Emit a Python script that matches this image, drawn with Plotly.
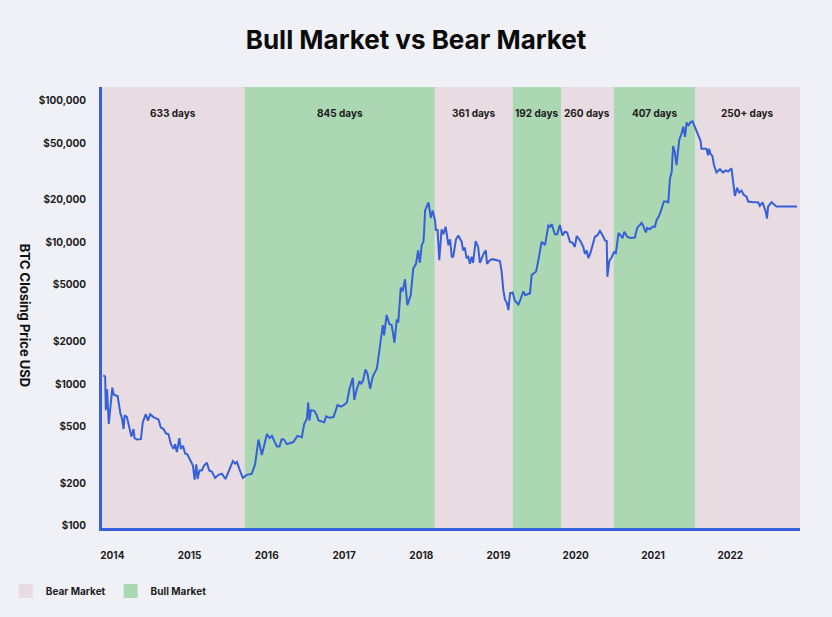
import pandas as pd
import plotly.graph_objects as go

# weekly-ish closing prices
dates = [
    "2013-11-19", "2013-11-28", "2013-12-01", "2013-12-07", "2013-12-15", "2013-12-23", "2014-01-01", "2014-01-07", "2014-01-26", "2014-02-08",
    "2014-02-16", "2014-02-23", "2014-02-28", "2014-03-11", "2014-03-23", "2014-04-01", "2014-04-11", "2014-04-16", "2014-04-27", "2014-05-16",
    "2014-05-25", "2014-06-08", "2014-06-18", "2014-06-29", "2014-07-14", "2014-08-07", "2014-08-18", "2014-08-31", "2014-09-12", "2014-09-23",
    "2014-10-05", "2014-10-17", "2014-10-25", "2014-11-02", "2014-11-14", "2014-11-21", "2014-12-01", "2014-12-11", "2014-12-22", "2015-01-05",
    "2015-01-17", "2015-01-25", "2015-02-02", "2015-02-08", "2015-02-17", "2015-02-28", "2015-03-11", "2015-03-24", "2015-04-04", "2015-04-17",
    "2015-05-02", "2015-05-18", "2015-06-03", "2015-06-20", "2015-07-04", "2015-07-25", "2015-08-05", "2015-08-13", "2015-08-28", "2015-09-10",
    "2015-09-29", "2015-10-22", "2015-11-07", "2015-11-23", "2015-12-09", "2015-12-20", "2016-01-02", "2016-01-14", "2016-01-26", "2016-02-06",
    "2016-02-18", "2016-03-01", "2016-03-12", "2016-03-23", "2016-04-05", "2016-05-06", "2016-05-25", "2016-06-15", "2016-06-26", "2016-07-09",
    "2016-07-15", "2016-07-21", "2016-07-28", "2016-08-13", "2016-08-25", "2016-09-02", "2016-09-29", "2016-10-08", "2016-10-24", "2016-11-12",
    "2016-12-01", "2016-12-17", "2017-01-01", "2017-01-14", "2017-01-26", "2017-02-11", "2017-02-18", "2017-03-02", "2017-03-15", "2017-03-21",
    "2017-03-31", "2017-04-12", "2017-04-21", "2017-05-04", "2017-05-17", "2017-06-05", "2017-06-17", "2017-07-03", "2017-07-09", "2017-07-21",
    "2017-08-03", "2017-08-14", "2017-08-27", "2017-09-07", "2017-09-14", "2017-09-26", "2017-10-05", "2017-10-16", "2017-10-27", "2017-11-12",
    "2017-11-24", "2017-12-07", "2017-12-17", "2017-12-25", "2018-01-03", "2018-01-11", "2018-01-14", "2018-01-19", "2018-02-04", "2018-02-15",
    "2018-02-24", "2018-03-07", "2018-03-11", "2018-03-19", "2018-03-27", "2018-04-07", "2018-04-15", "2018-04-26", "2018-05-09", "2018-05-17",
    "2018-05-25", "2018-06-01", "2018-06-14", "2018-06-25", "2018-07-11", "2018-07-18", "2018-07-26", "2018-08-03", "2018-08-11", "2018-08-19",
    "2018-08-27", "2018-09-03", "2018-09-15", "2018-09-27", "2018-10-05", "2018-10-13", "2018-10-24", "2018-11-02", "2018-11-08", "2018-11-21",
    "2018-12-04", "2019-01-08", "2019-01-16", "2019-01-24", "2019-02-01", "2019-02-09", "2019-02-17", "2019-02-25", "2019-03-09", "2019-03-20",
    "2019-04-05", "2019-04-13", "2019-04-29", "2019-05-07", "2019-05-30", "2019-06-07", "2019-06-28", "2019-07-08", "2019-07-24", "2019-08-09",
    "2019-08-25", "2019-09-02", "2019-09-10", "2019-09-17", "2019-09-25", "2019-10-06", "2019-10-18", "2019-10-31", "2019-11-11", "2019-11-22",
    "2019-12-05", "2019-12-17", "2019-12-28", "2020-01-06", "2020-01-22", "2020-02-06", "2020-02-14", "2020-02-22", "2020-03-01", "2020-03-12",
    "2020-03-24", "2020-04-01", "2020-04-12", "2020-04-25", "2020-05-08", "2020-05-19", "2020-05-27", "2020-05-30", "2020-06-08", "2020-06-19",
    "2020-06-30", "2020-07-09", "2020-07-22", "2020-08-01", "2020-08-10", "2020-08-18", "2020-09-01", "2020-09-17", "2020-10-07", "2020-10-18",
    "2020-11-08", "2020-11-16", "2020-11-28", "2020-12-04", "2020-12-17", "2020-12-30", "2021-01-10", "2021-01-18", "2021-01-30", "2021-02-10",
    "2021-02-21", "2021-03-06", "2021-03-14", "2021-03-22", "2021-03-30", "2021-04-06", "2021-04-14", "2021-04-22", "2021-05-05", "2021-05-16",
    "2021-05-24", "2021-06-01", "2021-06-09", "2021-06-16", "2021-06-27", "2021-07-07", "2021-07-18", "2021-08-02", "2021-08-14", "2021-08-18",
    "2021-09-11", "2021-09-18", "2021-09-23", "2021-09-30", "2021-10-09", "2021-10-16", "2021-10-28", "2021-11-13", "2021-11-28", "2021-12-11",
    "2021-12-22", "2022-01-07", "2022-01-15", "2022-01-23", "2022-02-03", "2022-02-12", "2022-02-23", "2022-03-06", "2022-03-19", "2022-03-27",
    "2022-04-19", "2022-05-13", "2022-05-21", "2022-06-03", "2022-06-14", "2022-06-18", "2022-06-24", "2022-06-29", "2022-07-15", "2022-08-08",
    "2022-09-24", "2022-11-13",
]

prices = [
    1150, 1130, 655, 919, 523, 693, 944, 845, 820, 619,
    569, 482, 602, 585, 495, 426, 482, 416, 406, 409,
    538, 613, 553, 613, 585, 563, 495, 482, 448, 444,
    377, 349, 377, 332, 416, 349, 367, 324, 319, 289,
    266, 212, 272, 214, 246, 246, 266, 279, 246, 241,
    218, 229, 233, 214, 241, 286, 275, 283, 244, 218,
    229, 233, 272, 406, 316, 377, 444, 416, 431, 396,
    363, 363, 409, 406, 377, 390, 431, 422, 523, 569,
    742, 553, 655, 648, 602, 553, 538, 592, 578, 585,
    713, 693, 713, 742, 919, 1106, 776, 919, 1051, 1000,
    1051, 1268, 1193, 928, 1134, 1287, 1702, 2604, 2208, 3071,
    2652, 2604, 1961, 2854, 2716, 4795, 4512, 5487, 3595, 4241,
    6513, 7047, 8762, 7170, 9548, 10070, 11629, 16788, 19138, 14855,
    16788, 14265, 12211, 12211, 7470, 12359, 11390, 12873, 9550, 10502,
    7907, 7907, 10502, 11166, 10070, 8762, 9179, 7732, 7907, 7047,
    7907, 7170, 10197, 9273, 7170, 7732, 8366, 8762, 7047, 7470,
    7600, 7381, 6219, 4597, 3918, 3756, 3322, 4374, 4430, 3869,
    3641, 3869, 4512, 4241, 4374, 5875, 6219, 7381, 10070, 9550,
    13142, 12873, 13417, 12359, 11390, 11390, 13255, 11166, 11872, 11730,
    10070, 9950, 9273, 11070, 10285, 9273, 8279, 8762, 7732, 8511,
    9830, 10934, 11166, 12018, 11166, 10285, 10197, 5706, 7381, 7810,
    8511, 8366, 11629, 11166, 10710, 11872, 10934, 10710, 10801, 12618,
    13682, 13030, 11726, 12618, 12359, 12873, 12873, 14370, 15354, 17140,
    19376, 19376, 18970, 28190, 31120, 47700, 43200, 35050, 52950, 58690,
    65270, 55340, 70060, 66150, 70060, 71290, 64670, 57140, 51780, 45580,
    45580, 41040, 45580, 41860, 40470, 35050, 31120, 32760, 31120, 32130,
    31500, 33220, 25550, 21220, 24230, 22380, 23150, 21640, 20970, 19376,
    19140, 19140, 18070, 19140, 17140, 16440, 14720, 17850, 19140, 17850,
    17850, 17850,
]

# market phases
band_start = ["2013-11-13", "2015-09-19", "2018-03-06", "2019-03-09", "2019-10-25", "2020-06-29", "2021-07-20"]
band_end = ["2015-09-19", "2018-03-06", "2019-03-09", "2019-10-25", "2020-06-29", "2021-07-20", "2022-11-27"]
band_kind = ["Bear Market", "Bull Market", "Bear Market", "Bull Market", "Bear Market", "Bull Market", "Bear Market"]
band_days = ["633 days", "845 days", "361 days", "192 days", "260 days", "407 days", "250+ days"]

year_ticks = ["2014-01-01", "2015-01-01", "2016-01-01", "2017-01-01", "2018-01-01",
              "2019-01-01", "2020-01-01", "2021-01-01", "2022-01-01"]
year_labels = ["2014", "2015", "2016", "2017", "2018", "2019", "2020", "2021", "2022"]

price_ticks = [100, 200, 500, 1000, 2000, 5000, 10000, 20000, 50000, 100000]
price_labels = ["$100", "$200", "$500", "$1000", "$2000", "$5000", "$10,000", "$20,000", "$50,000", "$100,000"]

colors = {"Bear Market": "#e8dbe2", "Bull Market": "#abd7b2"}
BLUE = "#3560d8"
BG = "#f0f1f6"
FONT = "Inter, Roboto, sans-serif"

fig = go.Figure()

fig.add_trace(go.Scatter(
    x=dates, y=prices, mode="lines",
    line=dict(color=BLUE, width=2),
    showlegend=False, hoverinfo="x+y",
))

for kind in ["Bear Market", "Bull Market"]:
    fig.add_trace(go.Scatter(
        x=[None], y=[None], mode="markers", name="<b>%s</b>" % kind,
        marker=dict(symbol="square", size=14, color=colors[kind]),
    ))

shapes = []
annotations = []
for s, e, k, d in zip(band_start, band_end, band_kind, band_days):
    shapes.append(dict(
        type="rect", xref="x", yref="paper", x0=s, x1=e, y0=0, y1=1,
        fillcolor=colors[k], line=dict(width=0), layer="below",
    ))
    # label sits in the middle of its band
    mid = pd.Timestamp(s) + (pd.Timestamp(e) - pd.Timestamp(s)) / 2
    annotations.append(dict(
        x=mid, y=0.941, xref="x", yref="paper", text="<b>%s</b>" % d,
        xanchor="center", yanchor="middle", showarrow=False,
        font=dict(size=10, color="#1c1c1c", family=FONT),
    ))

annotations.append(dict(
    x=-0.11, y=0.483, xref="paper", yref="paper",
    text="<b>BTC Closing Price USD</b>", textangle=90, showarrow=False,
    xanchor="center", yanchor="middle",
    font=dict(size=13, color="#111111", family=FONT),
))

fig.update_layout(
    width=832,
    height=617,
    paper_bgcolor=BG,
    plot_bgcolor=BG,
    margin=dict(l=102, r=32, t=87, b=89, autoexpand=False),
    font=dict(family=FONT, color="#1c1c1c"),
    title=dict(
        text="<b>Bull Market vs Bear Market</b>",
        font=dict(size=26, color="#0b0b0b", family=FONT),
        x=0.5, xanchor="center", xref="container",
        y=0.935, yanchor="middle",
    ),
    shapes=shapes,
    annotations=annotations,
    legend=dict(
        orientation="h",
        xref="container", x=0.007, xanchor="left",
        yref="container", y=0.042, yanchor="middle",
        font=dict(size=10, color="#1c1c1c", family=FONT),
        bgcolor="rgba(0,0,0,0)",
    ),
    hovermode="closest",
)

fig.update_xaxes(
    type="date",
    range=[band_start[0], band_end[-1]],
    tickvals=year_ticks, ticktext=["<b>%s</b>" % t for t in year_labels],
    tickfont=dict(size=10, color="#1c1c1c"),
    showgrid=False, zeroline=False,
    showline=True, linecolor=BLUE, linewidth=3,
    ticks="", ticklabelstandoff=16,
)
fig.update_yaxes(
    type="log",
    range=[1.985, 5.095],
    tickvals=price_ticks, ticktext=["<b>%s</b>" % t for t in price_labels],
    tickfont=dict(size=10, color="#1c1c1c"),
    showgrid=False, zeroline=False,
    showline=True, linecolor=BLUE, linewidth=3,
    ticks="", ticklabelstandoff=11,
)

# drop the default page margin so the figure fills the window
fig.write_html(
    "out.html",
    config={"displayModeBar": False},
    post_script="document.body.style.margin='0';document.body.style.background='%s';" % BG,
)
